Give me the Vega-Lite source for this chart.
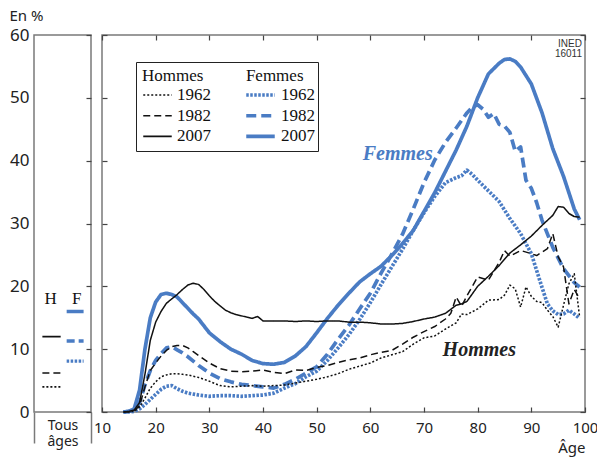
{
  "$schema": "https://vega.github.io/schema/vega-lite/v6.json",
  "background": "white",
  "padding": {"left": 8, "top": 7, "right": 0, "bottom": 2},
  "bounds": "flush",
  "spacing": 11,
  "config": {
    "view": {"stroke": "#7a7a7a", "strokeWidth": 1.5},
    "axis": {"labelFont": "Noto Sans", "titleFont": "Noto Sans", "tickColor": "#444", "tickWidth": 1.2, "domain": false, "grid": false, "labelColor": "#222", "titleColor": "#222", "titleFontWeight": "normal"},
    "legend": {"titleFont": "Liberation Serif", "titleFontSize": 17, "titleFontWeight": "normal", "titleColor": "#111", "titlePadding": 2, "labelFont": "Liberation Serif", "labelFontSize": 17, "labelColor": "#111", "labelOffset": 4, "symbolType": "stroke", "symbolSize": 812, "clipHeight": 16, "rowPadding": 3.7, "padding": 6}
  },
  "datasets": {
    "tous": [
      {"serie": "H2007", "pct": 12.0}, {"serie": "H1982", "pct": 6.2}, {"serie": "H1962", "pct": 4.0},
      {"serie": "F2007", "pct": 16.0}, {"serie": "F1982", "pct": 11.3}, {"serie": "F1962", "pct": 8.1}
    ],
    "notes": [
      {"texte": "Femmes", "sexe": "F", "age": 65.1, "pct": 41.1},
      {"texte": "Hommes", "sexe": "H", "age": 80.3, "pct": 9.9}
    ],
    "courbes": [
      {"serie":"F2007","age":14,"pct":0},{"serie":"F2007","age":15,"pct":0.1},{"serie":"F2007","age":16,"pct":0.5},{"serie":"F2007","age":17,"pct":3.5},{"serie":"F2007","age":18,"pct":10},{"serie":"F2007","age":19,"pct":15},{"serie":"F2007","age":20,"pct":17.5},{"serie":"F2007","age":21,"pct":18.7},{"serie":"F2007","age":22,"pct":18.9},{"serie":"F2007","age":23,"pct":18.7},{"serie":"F2007","age":24,"pct":18.3},{"serie":"F2007","age":25,"pct":17.4},{"serie":"F2007","age":26,"pct":16.5},{"serie":"F2007","age":27,"pct":15.6},{"serie":"F2007","age":28,"pct":14.8},{"serie":"F2007","age":30,"pct":12.6},{"serie":"F2007","age":32,"pct":11.2},{"serie":"F2007","age":34,"pct":10.0},{"serie":"F2007","age":36,"pct":9.2},{"serie":"F2007","age":38,"pct":8.2},{"serie":"F2007","age":40,"pct":7.7},{"serie":"F2007","age":42,"pct":7.6},{"serie":"F2007","age":44,"pct":7.9},{"serie":"F2007","age":46,"pct":8.9},{"serie":"F2007","age":48,"pct":10.4},{"serie":"F2007","age":50,"pct":12.6},{"serie":"F2007","age":52,"pct":14.9},{"serie":"F2007","age":54,"pct":17.0},{"serie":"F2007","age":56,"pct":18.9},{"serie":"F2007","age":58,"pct":20.7},{"serie":"F2007","age":60,"pct":22.0},{"serie":"F2007","age":62,"pct":23.2},{"serie":"F2007","age":64,"pct":24.9},{"serie":"F2007","age":66,"pct":26.8},{"serie":"F2007","age":68,"pct":28.9},{"serie":"F2007","age":70,"pct":31.9},{"serie":"F2007","age":72,"pct":34.9},{"serie":"F2007","age":74,"pct":38.3},{"serie":"F2007","age":76,"pct":41.7},{"serie":"F2007","age":78,"pct":45.5},{"serie":"F2007","age":80,"pct":50.0},{"serie":"F2007","age":82,"pct":53.8},{"serie":"F2007","age":84,"pct":55.5},{"serie":"F2007","age":85,"pct":56.1},{"serie":"F2007","age":86,"pct":56.2},{"serie":"F2007","age":87,"pct":55.8},{"serie":"F2007","age":88,"pct":54.9},{"serie":"F2007","age":90,"pct":52.2},{"serie":"F2007","age":92,"pct":47.6},{"serie":"F2007","age":94,"pct":41.9},{"serie":"F2007","age":96,"pct":37.5},{"serie":"F2007","age":98,"pct":32.3},{"serie":"F2007","age":99,"pct":30.6},
      {"serie":"F1982","age":14,"pct":0},{"serie":"F1982","age":15,"pct":0.1},{"serie":"F1982","age":16,"pct":0.3},{"serie":"F1982","age":17,"pct":1.5},{"serie":"F1982","age":18,"pct":4.3},{"serie":"F1982","age":19,"pct":6.6},{"serie":"F1982","age":20,"pct":8.2},{"serie":"F1982","age":21,"pct":9.3},{"serie":"F1982","age":22,"pct":10.2},{"serie":"F1982","age":23,"pct":10.4},{"serie":"F1982","age":24,"pct":9.9},{"serie":"F1982","age":25,"pct":9.4},{"serie":"F1982","age":26,"pct":8.8},{"serie":"F1982","age":28,"pct":7.4},{"serie":"F1982","age":30,"pct":6.2},{"serie":"F1982","age":32,"pct":5.3},{"serie":"F1982","age":34,"pct":4.8},{"serie":"F1982","age":36,"pct":4.4},{"serie":"F1982","age":38,"pct":4.2},{"serie":"F1982","age":40,"pct":4.0},{"serie":"F1982","age":42,"pct":3.8},{"serie":"F1982","age":44,"pct":4.4},{"serie":"F1982","age":46,"pct":5.2},{"serie":"F1982","age":48,"pct":6.2},{"serie":"F1982","age":50,"pct":7.2},{"serie":"F1982","age":52,"pct":9.2},{"serie":"F1982","age":54,"pct":11.6},{"serie":"F1982","age":56,"pct":13.8},{"serie":"F1982","age":58,"pct":16.4},{"serie":"F1982","age":60,"pct":18.9},{"serie":"F1982","age":62,"pct":22.1},{"serie":"F1982","age":64,"pct":25.1},{"serie":"F1982","age":66,"pct":28.3},{"serie":"F1982","age":68,"pct":32.3},{"serie":"F1982","age":70,"pct":36.5},{"serie":"F1982","age":72,"pct":40.1},{"serie":"F1982","age":74,"pct":42.9},{"serie":"F1982","age":76,"pct":45.2},{"serie":"F1982","age":78,"pct":47.6},{"serie":"F1982","age":79,"pct":48.5},{"serie":"F1982","age":80,"pct":48.9},{"serie":"F1982","age":81,"pct":48.2},{"serie":"F1982","age":82,"pct":46.9},{"serie":"F1982","age":83,"pct":47.5},{"serie":"F1982","age":84,"pct":45.8},{"serie":"F1982","age":85,"pct":45.5},{"serie":"F1982","age":86,"pct":44.5},{"serie":"F1982","age":87,"pct":41.5},{"serie":"F1982","age":88,"pct":42.2},{"serie":"F1982","age":89,"pct":36.9},{"serie":"F1982","age":90,"pct":35.6},{"serie":"F1982","age":91,"pct":33.3},{"serie":"F1982","age":92,"pct":30.5},{"serie":"F1982","age":94,"pct":26.2},{"serie":"F1982","age":96,"pct":22.8},{"serie":"F1982","age":98,"pct":20.6},{"serie":"F1982","age":99,"pct":19.9},
      {"serie":"F1962","age":14,"pct":0},{"serie":"F1962","age":16,"pct":0.1},{"serie":"F1962","age":17,"pct":0.5},{"serie":"F1962","age":18,"pct":1.2},{"serie":"F1962","age":19,"pct":2.0},{"serie":"F1962","age":20,"pct":2.8},{"serie":"F1962","age":21,"pct":3.6},{"serie":"F1962","age":22,"pct":4.1},{"serie":"F1962","age":23,"pct":4.2},{"serie":"F1962","age":24,"pct":3.7},{"serie":"F1962","age":25,"pct":3.3},{"serie":"F1962","age":26,"pct":3.0},{"serie":"F1962","age":28,"pct":2.7},{"serie":"F1962","age":30,"pct":2.5},{"serie":"F1962","age":32,"pct":2.6},{"serie":"F1962","age":34,"pct":2.6},{"serie":"F1962","age":36,"pct":2.5},{"serie":"F1962","age":38,"pct":2.6},{"serie":"F1962","age":40,"pct":2.7},{"serie":"F1962","age":42,"pct":3.0},{"serie":"F1962","age":44,"pct":3.8},{"serie":"F1962","age":46,"pct":4.5},{"serie":"F1962","age":48,"pct":5.6},{"serie":"F1962","age":50,"pct":6.5},{"serie":"F1962","age":52,"pct":8.2},{"serie":"F1962","age":54,"pct":10.2},{"serie":"F1962","age":56,"pct":12.3},{"serie":"F1962","age":58,"pct":14.7},{"serie":"F1962","age":60,"pct":17.4},{"serie":"F1962","age":62,"pct":20.3},{"serie":"F1962","age":64,"pct":23.1},{"serie":"F1962","age":66,"pct":25.9},{"serie":"F1962","age":68,"pct":28.9},{"serie":"F1962","age":70,"pct":31.7},{"serie":"F1962","age":72,"pct":34.3},{"serie":"F1962","age":74,"pct":36.5},{"serie":"F1962","age":76,"pct":37.3},{"serie":"F1962","age":77,"pct":37.6},{"serie":"F1962","age":78,"pct":38.5},{"serie":"F1962","age":79,"pct":37.8},{"serie":"F1962","age":80,"pct":36.9},{"serie":"F1962","age":82,"pct":35.2},{"serie":"F1962","age":84,"pct":33.5},{"serie":"F1962","age":86,"pct":30.8},{"serie":"F1962","age":88,"pct":28.4},{"serie":"F1962","age":90,"pct":25.2},{"serie":"F1962","age":92,"pct":19.8},{"serie":"F1962","age":93,"pct":17.2},{"serie":"F1962","age":94,"pct":16.1},{"serie":"F1962","age":95,"pct":15.5},{"serie":"F1962","age":96,"pct":15.6},{"serie":"F1962","age":97,"pct":16.2},{"serie":"F1962","age":98,"pct":15.6},{"serie":"F1962","age":99,"pct":14.9},
      {"serie":"H2007","age":14,"pct":0},{"serie":"H2007","age":15,"pct":0.1},{"serie":"H2007","age":16,"pct":0.3},{"serie":"H2007","age":17,"pct":1.5},{"serie":"H2007","age":18,"pct":6.0},{"serie":"H2007","age":19,"pct":11.4},{"serie":"H2007","age":20,"pct":14.3},{"serie":"H2007","age":21,"pct":16.0},{"serie":"H2007","age":22,"pct":17.3},{"serie":"H2007","age":23,"pct":18.0},{"serie":"H2007","age":24,"pct":18.7},{"serie":"H2007","age":25,"pct":19.5},{"serie":"H2007","age":26,"pct":20.2},{"serie":"H2007","age":27,"pct":20.5},{"serie":"H2007","age":28,"pct":20.3},{"serie":"H2007","age":29,"pct":19.5},{"serie":"H2007","age":30,"pct":18.5},{"serie":"H2007","age":31,"pct":17.6},{"serie":"H2007","age":32,"pct":16.9},{"serie":"H2007","age":33,"pct":16.2},{"serie":"H2007","age":34,"pct":15.8},{"serie":"H2007","age":35,"pct":15.5},{"serie":"H2007","age":36,"pct":15.3},{"serie":"H2007","age":38,"pct":14.9},{"serie":"H2007","age":39,"pct":15.2},{"serie":"H2007","age":40,"pct":14.5},{"serie":"H2007","age":42,"pct":14.5},{"serie":"H2007","age":44,"pct":14.5},{"serie":"H2007","age":46,"pct":14.4},{"serie":"H2007","age":48,"pct":14.5},{"serie":"H2007","age":50,"pct":14.4},{"serie":"H2007","age":52,"pct":14.5},{"serie":"H2007","age":54,"pct":14.5},{"serie":"H2007","age":56,"pct":14.3},{"serie":"H2007","age":58,"pct":14.3},{"serie":"H2007","age":60,"pct":14.2},{"serie":"H2007","age":62,"pct":14.0},{"serie":"H2007","age":64,"pct":14.0},{"serie":"H2007","age":66,"pct":14.1},{"serie":"H2007","age":68,"pct":14.4},{"serie":"H2007","age":70,"pct":14.8},{"serie":"H2007","age":72,"pct":15.1},{"serie":"H2007","age":74,"pct":15.7},{"serie":"H2007","age":76,"pct":17.0},{"serie":"H2007","age":77,"pct":17.2},{"serie":"H2007","age":78,"pct":17.6},{"serie":"H2007","age":80,"pct":20.0},{"serie":"H2007","age":82,"pct":21.6},{"serie":"H2007","age":84,"pct":23.3},{"serie":"H2007","age":86,"pct":25.3},{"serie":"H2007","age":88,"pct":26.6},{"serie":"H2007","age":90,"pct":28.0},{"serie":"H2007","age":92,"pct":29.7},{"serie":"H2007","age":94,"pct":31.3},{"serie":"H2007","age":95,"pct":32.7},{"serie":"H2007","age":96,"pct":32.6},{"serie":"H2007","age":97,"pct":31.6},{"serie":"H2007","age":98,"pct":31.1},{"serie":"H2007","age":99,"pct":31.0},
      {"serie":"H1982","age":14,"pct":0},{"serie":"H1982","age":15,"pct":0},{"serie":"H1982","age":16,"pct":0.2},{"serie":"H1982","age":17,"pct":1.0},{"serie":"H1982","age":18,"pct":4.0},{"serie":"H1982","age":19,"pct":6.6},{"serie":"H1982","age":20,"pct":7.8},{"serie":"H1982","age":21,"pct":8.9},{"serie":"H1982","age":22,"pct":9.8},{"serie":"H1982","age":23,"pct":10.4},{"serie":"H1982","age":24,"pct":10.6},{"serie":"H1982","age":25,"pct":10.6},{"serie":"H1982","age":26,"pct":10.2},{"serie":"H1982","age":27,"pct":9.6},{"serie":"H1982","age":28,"pct":9.0},{"serie":"H1982","age":30,"pct":7.8},{"serie":"H1982","age":32,"pct":6.9},{"serie":"H1982","age":34,"pct":6.5},{"serie":"H1982","age":36,"pct":6.4},{"serie":"H1982","age":38,"pct":6.5},{"serie":"H1982","age":40,"pct":6.7},{"serie":"H1982","age":42,"pct":6.3},{"serie":"H1982","age":44,"pct":6.1},{"serie":"H1982","age":46,"pct":6.7},{"serie":"H1982","age":48,"pct":6.6},{"serie":"H1982","age":50,"pct":7.1},{"serie":"H1982","age":52,"pct":7.4},{"serie":"H1982","age":54,"pct":7.9},{"serie":"H1982","age":56,"pct":8.3},{"serie":"H1982","age":58,"pct":8.6},{"serie":"H1982","age":60,"pct":9.1},{"serie":"H1982","age":62,"pct":9.5},{"serie":"H1982","age":64,"pct":9.8},{"serie":"H1982","age":66,"pct":10.8},{"serie":"H1982","age":68,"pct":11.9},{"serie":"H1982","age":70,"pct":12.8},{"serie":"H1982","age":72,"pct":13.6},{"serie":"H1982","age":74,"pct":14.8},{"serie":"H1982","age":75,"pct":15.7},{"serie":"H1982","age":76,"pct":18.3},{"serie":"H1982","age":77,"pct":16.8},{"serie":"H1982","age":78,"pct":18.5},{"serie":"H1982","age":80,"pct":21.5},{"serie":"H1982","age":82,"pct":21.0},{"serie":"H1982","age":84,"pct":23.8},{"serie":"H1982","age":85,"pct":25.7},{"serie":"H1982","age":86,"pct":24.8},{"serie":"H1982","age":88,"pct":25.7},{"serie":"H1982","age":90,"pct":25.2},{"serie":"H1982","age":91,"pct":24.9},{"serie":"H1982","age":93,"pct":26.0},{"serie":"H1982","age":94,"pct":28.4},{"serie":"H1982","age":95,"pct":24.7},{"serie":"H1982","age":96,"pct":23.1},{"serie":"H1982","age":97,"pct":17.2},{"serie":"H1982","age":98,"pct":19.5},{"serie":"H1982","age":99,"pct":18.0},
      {"serie":"H1962","age":14,"pct":0},{"serie":"H1962","age":16,"pct":0.1},{"serie":"H1962","age":17,"pct":0.8},{"serie":"H1962","age":18,"pct":2.2},{"serie":"H1962","age":19,"pct":3.8},{"serie":"H1962","age":20,"pct":4.8},{"serie":"H1962","age":21,"pct":5.6},{"serie":"H1962","age":22,"pct":5.9},{"serie":"H1962","age":23,"pct":6.1},{"serie":"H1962","age":24,"pct":6.1},{"serie":"H1962","age":25,"pct":6.0},{"serie":"H1962","age":26,"pct":5.9},{"serie":"H1962","age":28,"pct":5.5},{"serie":"H1962","age":30,"pct":4.9},{"serie":"H1962","age":32,"pct":4.2},{"serie":"H1962","age":34,"pct":4.0},{"serie":"H1962","age":36,"pct":4.1},{"serie":"H1962","age":38,"pct":4.2},{"serie":"H1962","age":40,"pct":4.1},{"serie":"H1962","age":42,"pct":4.2},{"serie":"H1962","age":44,"pct":4.3},{"serie":"H1962","age":46,"pct":4.6},{"serie":"H1962","age":48,"pct":4.9},{"serie":"H1962","age":50,"pct":5.2},{"serie":"H1962","age":52,"pct":5.6},{"serie":"H1962","age":54,"pct":6.1},{"serie":"H1962","age":56,"pct":6.8},{"serie":"H1962","age":58,"pct":7.3},{"serie":"H1962","age":60,"pct":7.8},{"serie":"H1962","age":62,"pct":8.6},{"serie":"H1962","age":64,"pct":9.1},{"serie":"H1962","age":66,"pct":9.6},{"serie":"H1962","age":68,"pct":10.8},{"serie":"H1962","age":70,"pct":11.8},{"serie":"H1962","age":72,"pct":12.1},{"serie":"H1962","age":74,"pct":13.2},{"serie":"H1962","age":76,"pct":14.2},{"serie":"H1962","age":77,"pct":15.6},{"serie":"H1962","age":78,"pct":15.5},{"serie":"H1962","age":80,"pct":16.4},{"serie":"H1962","age":82,"pct":17.8},{"serie":"H1962","age":84,"pct":17.9},{"serie":"H1962","age":85,"pct":18.6},{"serie":"H1962","age":86,"pct":20.2},{"serie":"H1962","age":87,"pct":19.6},{"serie":"H1962","age":88,"pct":16.7},{"serie":"H1962","age":89,"pct":19.9},{"serie":"H1962","age":90,"pct":18.4},{"serie":"H1962","age":91,"pct":17.6},{"serie":"H1962","age":92,"pct":17.4},{"serie":"H1962","age":93,"pct":16.2},{"serie":"H1962","age":94,"pct":15.2},{"serie":"H1962","age":95,"pct":13.5},{"serie":"H1962","age":96,"pct":17.0},{"serie":"H1962","age":97,"pct":20.4},{"serie":"H1962","age":98,"pct":22.0},{"serie":"H1962","age":99,"pct":15.1}
    ]
  },
  "resolve": {"scale": {"strokeDash": "independent"}},
  "hconcat": [
    {
      "width": 57,
      "height": 377,
      "layer": [
        {
          "data": {"name": "tous"},
          "transform": [{"filter": "indexof(datum.serie, 'H') == 0"}],
          "mark": {"type": "rule", "strokeCap": "butt", "color": "#111111", "strokeWidth": 1.6},
          "encoding": {
            "x": {"datum": 0.147, "type": "quantitative", "scale": {"domain": [0, 1], "nice": false, "zero": false},
                  "axis": {"values": [0, 1], "tickSize": 31, "tickColor": "#7a7a7a", "tickWidth": 1.5, "labels": false, "title": ["Tous", "âges"], "titleFontSize": 14, "titleLineHeight": 16, "titleBaseline": "top", "titleAlign": "center", "titleX": 28.5, "titleY": 6}},
            "x2": {"datum": 0.468},
            "y": {"field": "pct", "type": "quantitative", "scale": {"domain": [0, 60], "nice": false},
                  "axis": {"values": [0, 10, 20, 30, 40, 50, 60], "ticks": false, "labelFontSize": 17, "labelPadding": 5, "title": "En %", "titleAngle": 0, "titleAlign": "left", "titleBaseline": "alphabetic", "titleX": -25, "titleY": -15, "titleFontSize": 15}},
            "strokeDash": {"field": "serie", "type": "nominal", "legend": null, "scale": {"domain": ["H1962", "H1982", "H2007", "F1962", "F1982", "F2007"], "range": [[2, 2], [7, 4], [1, 0], [2.5, 1.5], [8, 4], [1, 0]]}}
          }
        },
        {
          "data": {"name": "tous"},
          "transform": [{"filter": "indexof(datum.serie, 'F') == 0"}],
          "mark": {"type": "rule", "strokeCap": "butt", "color": "#4a7cc4", "strokeWidth": 3.4},
          "encoding": {
            "x": {"datum": 0.573, "type": "quantitative", "axis": null},
            "x2": {"datum": 0.87},
            "y": {"field": "pct", "type": "quantitative", "axis": {"orient": "right", "values": [0, 10, 20, 30, 40, 50, 60], "tickSize": -5, "labels": false, "title": null}},
            "strokeDash": {"field": "serie", "type": "nominal", "legend": null}
          }
        },
        {
          "data": {"values": [{}]},
          "mark": {"type": "text", "font": "Liberation Serif", "fontSize": 17, "baseline": "middle", "color": "#111"},
          "encoding": {
            "x": {"datum": 0.29, "type": "quantitative", "axis": null},
            "y": {"datum": 18, "type": "quantitative", "axis": null},
            "text": {"value": "H"}
          }
        },
        {
          "data": {"values": [{}]},
          "mark": {"type": "text", "font": "Liberation Serif", "fontSize": 17, "baseline": "middle", "color": "#111"},
          "encoding": {
            "x": {"datum": 0.75, "type": "quantitative", "axis": null},
            "y": {"datum": 18, "type": "quantitative", "axis": null},
            "text": {"value": "F"}
          }
        }
      ],
      "resolve": {"axis": {"x": "independent", "y": "independent"}}
    },
    {
      "width": 483,
      "height": 377,
      "layer": [
        {
          "data": {"name": "courbes"},
          "transform": [{"filter": "indexof(datum.serie, 'F') == 0"}],
          "mark": {"type": "line", "strokeCap": "butt", "strokeJoin": "round", "color": "#4a7cc4", "strokeWidth": 3.7},
          "encoding": {
            "x": {"field": "age", "type": "quantitative", "scale": {"domain": [10, 100], "nice": false, "zero": false},
                  "axis": {"values": [10, 20, 30, 40, 50, 60, 70, 80, 90, 100], "tickSize": -5, "labelPadding": 13, "labelFlush": false, "labelFontSize": 15, "title": "Âge", "titleAnchor": "end", "titleFontSize": 15, "titlePadding": 5}},
            "y": {"field": "pct", "type": "quantitative", "scale": {"domain": [0, 60], "nice": false},
                  "axis": {"values": [0, 10, 20, 30, 40, 50, 60], "tickSize": -5, "labels": false, "title": null}},
            "strokeDash": {"field": "serie", "type": "nominal",
                           "scale": {"domain": ["F1962", "F1982", "F2007"], "range": [[2.5, 1.5], [10, 5], [1, 0]]},
                           "legend": {"orient": "none", "legendX": 136, "legendY": 46, "title": null, "labelExpr": "slice(datum.label, 1)", "symbolStrokeColor": "#4a7cc4", "symbolStrokeWidth": 3.6}}
          }
        },
        {
          "data": {"name": "courbes"},
          "transform": [{"filter": "indexof(datum.serie, 'H') == 0"}],
          "mark": {"type": "line", "strokeCap": "butt", "strokeJoin": "round", "color": "#111111", "strokeWidth": 1.5},
          "encoding": {
            "x": {"field": "age", "type": "quantitative", "axis": {"orient": "top", "values": [10, 20, 30, 40, 50, 60, 70, 80, 90, 100], "tickSize": -5, "labels": false, "title": null}},
            "y": {"field": "pct", "type": "quantitative", "axis": {"orient": "right", "values": [0, 10, 20, 30, 40, 50, 60], "tickSize": -5, "labels": false, "title": null}},
            "strokeDash": {"field": "serie", "type": "nominal",
                           "scale": {"domain": ["H1962", "H1982", "H2007"], "range": [[2, 2], [7, 4], [1, 0]]},
                           "legend": {"orient": "none", "legendX": 34, "legendY": 27, "title": "Hommes\u00a0\u00a0\u00a0\u00a0\u00a0\u00a0\u00a0\u00a0\u00a0\u00a0Femmes\u00a0\u00a0\u200b", "titleLimit": 400, "labelExpr": "slice(datum.label, 1)", "symbolStrokeColor": "#111111", "symbolStrokeWidth": 1.6, "strokeColor": "#222222"}}
          }
        },
        {
          "data": {"name": "notes"},
          "mark": {"type": "text", "font": "Liberation Serif", "fontSize": 20, "fontStyle": "italic", "fontWeight": "bold", "align": "center", "baseline": "middle"},
          "encoding": {
            "x": {"field": "age", "type": "quantitative", "axis": null},
            "y": {"field": "pct", "type": "quantitative", "axis": null},
            "text": {"field": "texte"},
            "color": {"condition": {"test": "datum.sexe == 'F'", "value": "#4a7cc4"}, "value": "#222222"}
          }
        },
        {
          "data": {"values": [{}]},
          "mark": {"type": "text", "font": "Liberation Sans", "fontSize": 10, "lineHeight": 9.5, "align": "right", "baseline": "top", "dx": -3, "dy": 4, "color": "#333"},
          "encoding": {
            "x": {"datum": 100, "type": "quantitative", "axis": null},
            "y": {"datum": 60, "type": "quantitative", "axis": null},
            "text": {"value": ["INED", "16011"]}
          }
        }
      ],
      "resolve": {"scale": {"strokeDash": "independent"}, "axis": {"x": "independent", "y": "independent"}}
    }
  ]
}
